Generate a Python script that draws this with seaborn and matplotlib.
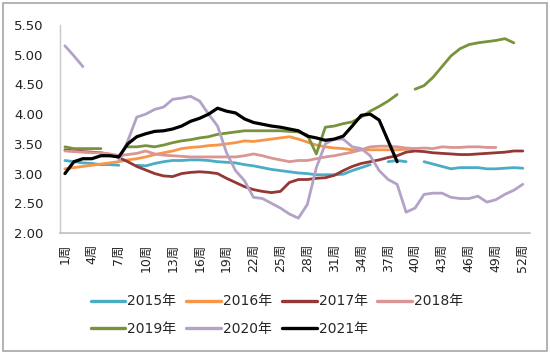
import numpy as np
import pandas as pd
import matplotlib
matplotlib.use("Agg")
import matplotlib.pyplot as plt
from matplotlib.lines import Line2D
from matplotlib.patches import Rectangle
import seaborn as sns

nan = np.nan
weeks = list(range(1, 53))
tick_weeks = list(range(1, 53, 3))
tick_labels = [f"{w}周" for w in tick_weeks]
years = ["2015年", "2016年", "2017年", "2018年", "2019年", "2020年", "2021年"]

y2015 = [3.22, 3.20, 3.18, 3.17, 3.15, 3.15, 3.14, nan, 3.14, 3.13, 3.17, 3.20, 3.22,
         3.22, 3.23, 3.23, 3.22, 3.20, 3.19, 3.18, 3.15, 3.13, 3.10, 3.07, 3.05, 3.03,
         3.01, 3.00, 2.98, 2.98, 2.98, 2.99, 3.05, 3.10, 3.15, nan, 3.20, 3.22, 3.20,
         nan, 3.20, 3.16, 3.12, 3.08, 3.10, 3.10, 3.10, 3.08, 3.08, 3.09, 3.10, 3.09]
y2016 = [3.08, 3.10, 3.12, 3.14, 3.16, 3.18, 3.20, 3.23, 3.25, 3.28, 3.32, 3.35, 3.38,
         3.42, 3.44, 3.45, 3.47, 3.48, 3.50, 3.52, 3.55, 3.54, 3.56, 3.58, 3.60, 3.62,
         3.58, 3.53, 3.48, 3.45, 3.43, 3.42, 3.40, 3.40, 3.40, 3.40, 3.40, 3.40, 3.41,
         3.42, nan, nan, nan, nan, nan, nan, nan, nan, nan, nan, nan, nan]
y2017 = [3.40, 3.38, 3.37, 3.36, 3.35, 3.32, 3.27, 3.20, 3.12, 3.06, 3.00, 2.96, 2.95,
         3.00, 3.02, 3.03, 3.02, 3.00, 2.92, 2.85, 2.78, 2.73, 2.70, 2.68, 2.70, 2.85,
         2.90, 2.90, 2.92, 2.93, 2.97, 3.05, 3.12, 3.17, 3.20, 3.23, 3.27, 3.30, 3.36,
         3.38, 3.37, 3.35, 3.34, 3.33, 3.32, 3.32, 3.33, 3.34, 3.35, 3.36, 3.38, 3.38]
y2018 = [3.38, 3.37, 3.36, 3.35, 3.35, 3.33, 3.30, 3.32, 3.34, 3.38, 3.33, 3.31, 3.30,
         3.29, 3.28, 3.28, 3.28, 3.28, 3.28, 3.28, 3.30, 3.33, 3.30, 3.26, 3.23, 3.20,
         3.22, 3.22, 3.25, 3.28, 3.30, 3.33, 3.36, 3.40, 3.45, 3.46, 3.46, 3.45, 3.43,
         3.42, 3.43, 3.42, 3.45, 3.44, 3.44, 3.45, 3.45, 3.44, 3.44, nan, nan, nan]
y2019 = [3.45, 3.42, 3.42, 3.42, 3.42, nan, nan, 3.45, 3.45, 3.47, 3.45, 3.48, 3.52,
         3.55, 3.57, 3.60, 3.62, 3.66, 3.68, 3.70, 3.72, 3.72, 3.72, 3.72, 3.72, 3.71,
         3.70, 3.65, 3.33, 3.78, 3.80, 3.84, 3.87, 3.95, 4.05, 4.13, 4.22, 4.33, nan,
         4.42, 4.48, 4.62, 4.80, 4.98, 5.10, 5.17, 5.20, 5.22, 5.24, 5.27, 5.20, nan]
y2020 = [5.15, 4.98, 4.80, nan, nan, nan, 3.22, 3.55, 3.95, 4.00, 4.08, 4.12, 4.25,
         4.27, 4.30, 4.22, 4.00, 3.80, 3.35, 3.05, 2.88, 2.60, 2.58, 2.50, 2.42, 2.32,
         2.25, 2.48, 3.10, 3.50, 3.58, 3.58, 3.45, 3.42, 3.30, 3.05, 2.90, 2.82, 2.35,
         2.42, 2.65, 2.67, 2.67, 2.60, 2.58, 2.58, 2.62, 2.52, 2.56, 2.65, 2.72, 2.82]
y2021 = [3.00, 3.20, 3.25, 3.25, 3.30, 3.30, 3.28, 3.50, 3.62, 3.67, 3.71, 3.72, 3.75,
         3.80, 3.88, 3.93, 4.00, 4.10, 4.05, 4.02, 3.92, 3.86, 3.83, 3.80, 3.78, 3.75,
         3.72, 3.63, 3.60, 3.56, 3.58, 3.63, 3.80, 3.98, 4.00, 3.90, 3.55, 3.20,
         nan, nan, nan, nan, nan, nan, nan, nan, nan, nan, nan, nan, nan, nan]

series = [y2015, y2016, y2017, y2018, y2019, y2020, y2021]
colors = ["#4BACC6", "#F79646", "#953735", "#D99694", "#77933C", "#B3A2C7", "#000000"]
widths = [2.0, 2.0, 2.0, 2.0, 2.0, 2.0, 2.3]

sns.set_style("white")
plt.rcParams["font.family"] = ["DejaVu Sans", "Noto Sans CJK SC"]

fig = plt.figure(figsize=(5.5, 3.54), dpi=100)
ax = fig.add_axes([60 / 550, 1 - 233 / 354, 470 / 550, 208 / 354])

for name, vals, c, lw in zip(years, series, colors, widths):
    arr = np.array(vals, dtype=float)
    seg = np.cumsum(np.isnan(arr))
    df = pd.DataFrame({"week": weeks, "price": arr, "seg": seg}).dropna()
    sns.lineplot(data=df, x="week", y="price", units="seg", estimator=None,
                 color=c, linewidth=lw, ax=ax, legend=False)

ax.set_xlim(0.45, 52.8)
ax.set_ylim(2.0, 5.5)
ax.set_yticks(np.arange(2.0, 5.51, 0.5))
ax.set_yticklabels([f"{v:.2f}" for v in np.arange(2.0, 5.51, 0.5)])
ax.set_xticks(tick_weeks)
ax.set_xticklabels(tick_labels, rotation=90)
ax.tick_params(axis="x", length=0, pad=8, labelsize=9, colors="#222222")
ax.tick_params(axis="y", length=0, pad=12, labelsize=9.5, colors="#222222")
ax.set_xlabel("")
ax.set_ylabel("")
for s in ["top", "right"]:
    ax.spines[s].set_visible(False)
ax.spines["left"].set_color("#C8C8C8")
ax.spines["bottom"].set_color("#BFBFBF")
ax.spines["left"].set_linewidth(1.0)
ax.spines["bottom"].set_linewidth(1.2)

handles = [Line2D([0], [0], color=c, lw=2.4) for c in colors]
order = [0, 4, 1, 5, 2, 6, 3]
fig.legend([handles[i] for i in order], [years[i] for i in order],
           ncol=4, loc="center", bbox_to_anchor=(277 / 550, 1 - 315 / 354),
           frameon=False, fontsize=10, handlelength=2.5, handletextpad=0.15,
           columnspacing=0.7, labelspacing=0.95)

fig.patches.append(Rectangle((3 / 550, 3 / 354), 544 / 550, 348 / 354,
                             transform=fig.transFigure, fill=False,
                             edgecolor="#A6A6A6", linewidth=1.2))

fig.savefig("out.png", dpi=100)
